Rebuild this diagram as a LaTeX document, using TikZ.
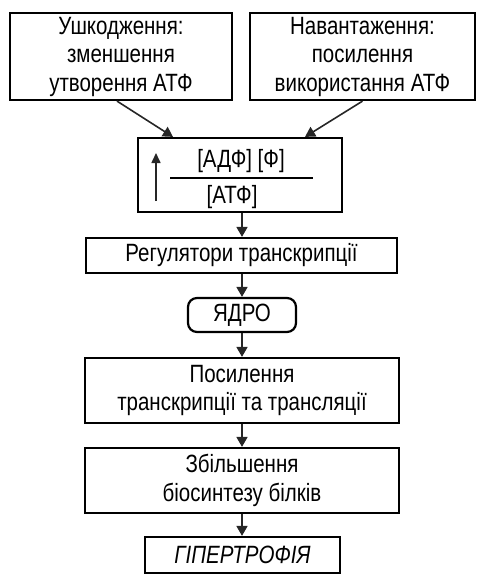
\documentclass[tikz,border=0pt]{standalone}
\usepackage{fontspec}
\setmainfont[FakeStretch=0.82]{Liberation Sans}
\usetikzlibrary{arrows.meta,calc}
\begin{document}
\begin{tikzpicture}[x=1pt,y=-1pt,
  box/.style={draw=black,line width=2.2pt,text=black,font=\fontsize{25}{28.5}\selectfont,align=center,inner sep=0pt},
  lbl/.style={font=\fontsize{25}{28}\selectfont,text=black,inner sep=0pt},
  conn/.style={line width=1.6pt,draw=black!85,-{Triangle[width=11pt,length=10pt]}}]
\useasboundingbox (0,0) rectangle (483,579);
\node[box,minimum width=222pt,minimum height=87pt] (b1) at (121,56.5) {Ушкодження:\\зменшення\\утворення АТФ};
\node[box,minimum width=225pt,minimum height=87pt] (b2) at (362.5,56.5) {Навантаження:\\посилення\\використання АТФ};
\node[box,minimum width=204pt,minimum height=74pt] (r) at (240,175) {};
\node[lbl] (num) at (241,161) {[АДФ] [Ф]};
\node[lbl] (den) at (232,197) {[АТФ]};
\coordinate (fl) at (170,178);
\coordinate (fr) at (313,178);
\draw[line width=1.3pt] (fl) -- (fr);
\coordinate (ua) at (156,201);
\coordinate (ub) at (156,153);
\draw[line width=1.6pt,draw=black!85,-{Triangle[width=9pt,length=10pt]}] (ua) -- (ub);
\node[box,minimum width=311pt,minimum height=35pt] (reg) at (241.5,255.5) {Регулятори транскрипції};
\node[box,minimum width=108pt,minimum height=34pt,rounded corners=9pt] (ya) at (242,315) {ЯДРО};
\node[box,minimum width=314pt,minimum height=65pt] (pos) at (242,390.5) {Посилення\\транскрипції та трансляції};
\node[box,minimum width=314pt,minimum height=65pt] (zb) at (242,480.5) {Збільшення\\біосинтезу білків};
\node[box,minimum width=195pt,minimum height=36pt,font=\fontsize{25}{28}\selectfont\itshape] (hy) at (242.5,555) {ГІПЕРТРОФІЯ};
\draw[conn] ($(b1.south)+(-4,0)$) -- ($(r.north)+(-67,0)$);
\draw[conn] ($(b2.south)+(0,0)$) -- ($(r.north)+(65,0)$);
\draw[conn] ($(r.south)+(2,0)$) -- ($(reg.north)+(0.5,0)$);
\draw[conn] ($(reg.south)+(0.5,0)$) -- (ya.north);
\draw[conn] (ya.south) -- (pos.north);
\draw[conn] (pos.south) -- (zb.north);
\draw[conn] (zb.south) -- ($(hy.north)+(-0.5,0)$);
\end{tikzpicture}
\end{document}
